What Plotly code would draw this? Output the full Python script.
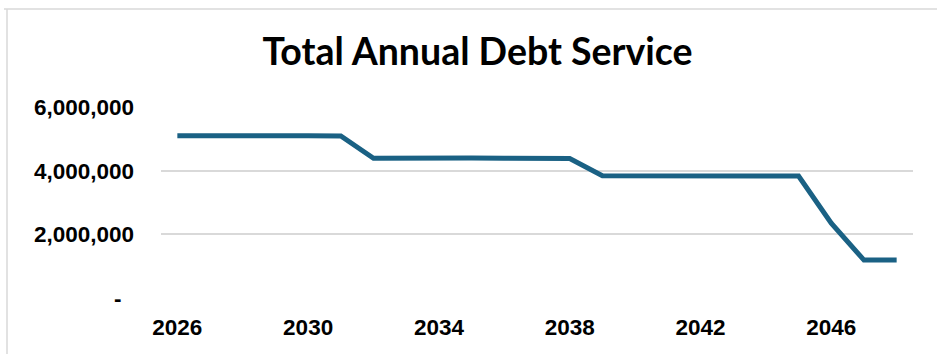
import plotly.graph_objects as go

years = list(range(2026, 2049))
debt_service = [5.10e6, 5.09e6, 5.10e6, 5.10e6, 5.10e6, 5.09e6,
                4.39e6, 4.40e6, 4.39e6, 4.40e6, 4.39e6, 4.38e6, 4.38e6,
                3.84e6, 3.84e6, 3.83e6, 3.83e6, 3.83e6, 3.83e6, 3.83e6,
                2.35e6, 1.19e6, 1.19e6]
x_ticks = [2026, 2030, 2034, 2038, 2042, 2046]
y_ticks = [0, 2e6, 4e6, 6e6]
y_ticktext = ["-\u00a0\u00a0", "2,000,000", "4,000,000", "6,000,000"]

W, H = 937, 354
L, R, T, B = 161, 24, 107, 56
pw, ph = W - L - R, H - T - B

fig = go.Figure()
fig.add_trace(go.Scatter(x=years, y=debt_service, mode="lines",
                         line=dict(color="#1a6184", width=5),
                         hoverinfo="x+y"))

def px(xp):
    return (xp - L) / pw

def py(yp):
    return (H - B - yp) / ph

tick_font = dict(family="Liberation Sans", size=22.5, color="black", weight="bold")

fig.update_layout(
    width=W, height=H,
    margin=dict(l=L, r=R, t=T, b=B),
    paper_bgcolor="white", plot_bgcolor="white",
    showlegend=False,
    title=dict(text="<b>Total Annual Debt Service</b>",
               font=dict(family="Lato", size=37.5, color="black"),
               x=px(477.5), xref="paper", xanchor="center",
               y=1 - 52 / H, yref="container", yanchor="middle"),
    xaxis=dict(range=[2025.5, 2048.5], tickvals=x_ticks,
               showgrid=False, zeroline=False, showline=False,
               ticks="", ticklabelstandoff=13, tickfont=tick_font),
    yaxis=dict(range=[0, 6e6], tickvals=y_ticks, ticktext=y_ticktext,
               showgrid=True, gridcolor="#d9d9d9", gridwidth=1.5,
               zeroline=False, showline=False, ticks="",
               ticklabelstandoff=26, tickfont=tick_font),
    shapes=[
        dict(type="line", xref="paper", yref="paper",
             x0=px(4), x1=px(940), y0=py(9), y1=py(9),
             line=dict(color="#d9d9d9", width=1.5)),
        dict(type="line", xref="paper", yref="paper",
             x0=px(7), x1=px(7), y0=py(9), y1=py(360),
             line=dict(color="#d9d9d9", width=1.5)),
    ],
)

fig.write_html("out.html")
